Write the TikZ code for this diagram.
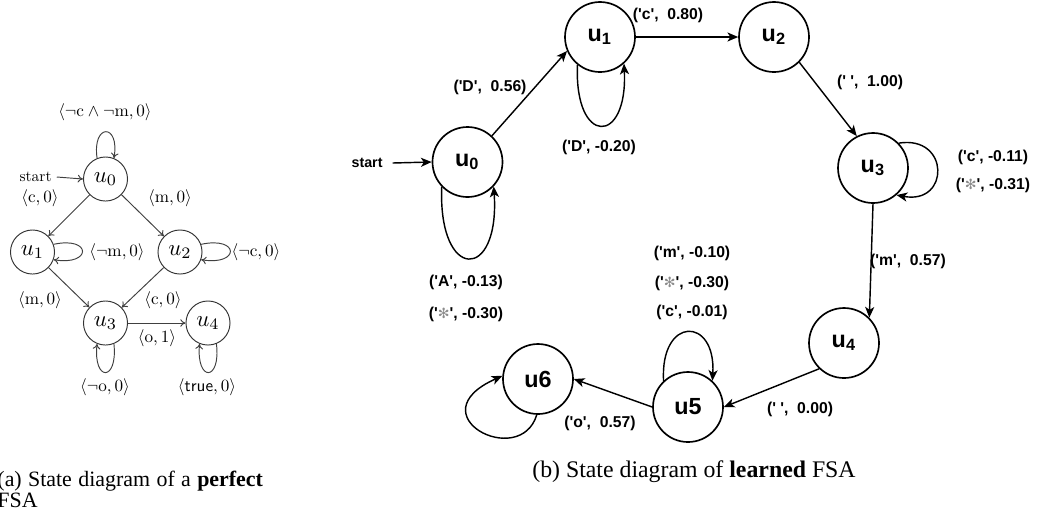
\documentclass[tikz,border=0pt]{standalone}
\usepackage{graphicx}
\usepackage{fontspec}
\newfontfamily\timesfont{Liberation Serif}
\newfontfamily\arialfont{Liberation Sans}
\newfontfamily\djv{DejaVu Sans}
\usetikzlibrary{arrows.meta}
\tikzset{
  sa/.style={circle, draw=black!80, line width=0.4pt, minimum size=18.5pt, inner sep=0pt},
  la/.style={inner sep=0pt},
  ea/.style={draw=black!75, line width=0.4pt, -{To[length=2.2pt,width=3.2pt]}},
  sb/.style={circle, draw, line width=0.7pt, minimum size=29.4pt, inner sep=0pt, font=\arialfont\bfseries\fontsize{9.8}{11}\selectfont},
  lb/.style={font=\arialfont\bfseries\fontsize{6.6}{8}\selectfont, inner sep=0pt},
  eb/.style={draw, line width=0.6pt, -{Stealth[length=4.5pt,width=3.8pt,inset=1.2pt]}},
  capt/.style={font=\timesfont\fontsize{10}{11.5}\selectfont, inner sep=0pt},
  capta/.style={font=\timesfont\fontsize{9.2}{10}\selectfont, inner sep=0pt},
}
\newcommand{\gast}{{\djv\color{black!45}\fontsize{5.9}{7}\selectfont ✻}}
\newcommand{\lab}[1]{\scalebox{0.72}{$#1$}}
\newcommand{\stn}[1]{\scalebox{0.96}{$#1$}}
\begin{document}
\begin{tikzpicture}[x=0.42pt,y=-0.42pt]
\useasboundingbox (0,0) rectangle (1037,511);
% ---------- (a) perfect FSA ----------
\node[sa] (A0) at (105.5,179) {\stn{u_0}};
\node[sa] (A1) at (32.5,252) {\stn{u_1}};
\node[sa] (A2) at (180,252) {\stn{u_2}};
\node[sa] (A3) at (105.5,323) {\stn{u_3}};
\node[sa] (A4) at (208,323) {\stn{u_4}};
\node[inner sep=0pt, anchor=east] (As) at (52,177) {\scalebox{0.65}{start}};
\draw[ea] (As.east) ++(2pt,0) -- (A0.west);
\draw[ea] (A0) -- (A1);
\draw[ea] (A0) -- (A2);
\draw[ea] (A1) -- (A3);
\draw[ea] (A2) -- (A3);
\draw[ea] (A3) -- (A4);
\draw[ea] (A0.112) .. controls (92,123) and (120,123) .. (A0.68);
\draw[ea] (A1.20) .. controls (92,236) and (92,266) .. (A1.-20);
\draw[ea] (A2.20) .. controls (240,236) and (240,266) .. (A2.-20);
\draw[ea] (A3.-68) .. controls (118,382) and (93,382) .. (A3.-112);
\draw[ea] (A4.-68) .. controls (221,382) and (196,382) .. (A4.-112);
\node[la] (la1) at (105,112) {\lab{\langle\neg\mathrm{c}\wedge\neg\mathrm{m},0\rangle}};
\node[la] (la2) at (40,198) {\lab{\langle\mathrm{c},0\rangle}};
\node[la] (la3) at (170,198) {\lab{\langle\mathrm{m},0\rangle}};
\node[la] (la4) at (117,252) {\lab{\langle\neg\mathrm{m},0\rangle}};
\node[la] (la5) at (256,252) {\lab{\langle\neg\mathrm{c},0\rangle}};
\node[la] (la6) at (40,300) {\lab{\langle\mathrm{m},0\rangle}};
\node[la] (la7) at (163,300) {\lab{\langle\mathrm{c},0\rangle}};
\node[la] (la8) at (157,338) {\lab{\langle\mathrm{o},1\rangle}};
\node[la] (la9) at (105,387) {\lab{\langle\neg\mathrm{o},0\rangle}};
\node[la] (la10) at (207,387) {\lab{\langle\mathsf{true},0\rangle}};
\node[capta, anchor=base west] (capa1) at (-3,486)
  {\makebox[111.5pt][s]{(a) State diagram of a \textbf{perfect}}};
\node[capta, anchor=base west] (capa2) at (-3,507) {FSA};
% ---------- (b) learned FSA ----------
\node[sb] (B0) at (467.5,162) {u\textsubscript{0}};
\node[sb] (B1) at (600,37) {u\textsubscript{1}};
\node[sb] (B2) at (774,37) {u\textsubscript{2}};
\node[sb] (B3) at (873,168) {u\textsubscript{3}};
\node[sb] (B4) at (844,343) {u\textsubscript{4}};
\node[sb] (B5) at (688,407) {u5};
\node[sb] (B6) at (538,379) {u6};
\node[lb, font=\arialfont\bfseries\fontsize{6}{7}\selectfont, anchor=east] (Bs) at (383,163) {start};
\draw[eb] (Bs.east) ++(4pt,0) -- (B0.west);
\draw[eb] (B0.47) -- (B1.203);
\draw[eb] (B1.east) -- (B2.west);
\draw[eb] (B2.315) -- (B3.117);
\draw[eb] (B3.south) -- (B4.45);
\draw[eb] (B4.226) -- (B5.east);
\draw[eb] (B5.west) -- (B6.east);
\draw[eb] (B0.224) .. controls (438,282) and (500,282) .. (B0.317);
\draw[eb] (B1.231) .. controls (574,146) and (628,146) .. (B1.312);
\draw[eb] (B3.44) .. controls (950,135) and (950,205) .. (B3.311);
\draw[eb] (B5.133) .. controls (660,316) and (716,316) .. (B5.47);
\draw[eb] (B6.268) .. controls (520,470) and (415,415) .. (B6.175);
\node[lb] (lb1) at (490,87) {('D',\ \ 0.56)};
\node[lb] (lb2) at (599,147) {('D', -0.20)};
\node[lb] (lb3) at (668,15) {('c',\ \ 0.80)};
\node[lb] (lb4) at (870,82) {(' ',\ \ 1.00)};
\node[lb] (lb5) at (993,157) {('c', -0.11)};
\node[lb] (lb6) at (993,185) {('\gast', -0.31)};
\node[lb] (lb7) at (908,261) {('m',\ \ 0.57)};
\node[lb] (lb8) at (800,409) {(' ',\ \ 0.00)};
\node[lb] (lb9) at (692,253) {('m', -0.10)};
\node[lb] (lb10) at (692,283) {('\gast', -0.30)};
\node[lb] (lb11) at (692,312) {('c', -0.01)};
\node[lb] (lb12) at (600,423) {('o',\ \ 0.57)};
\node[lb] (lb13) at (466,282) {('A', -0.13)};
\node[lb] (lb14) at (466,314) {('\gast', -0.30)};
\node[capt, anchor=base] (capb) at (694,477) {(b) State diagram of \textbf{learned} FSA};
\end{tikzpicture}
\end{document}
